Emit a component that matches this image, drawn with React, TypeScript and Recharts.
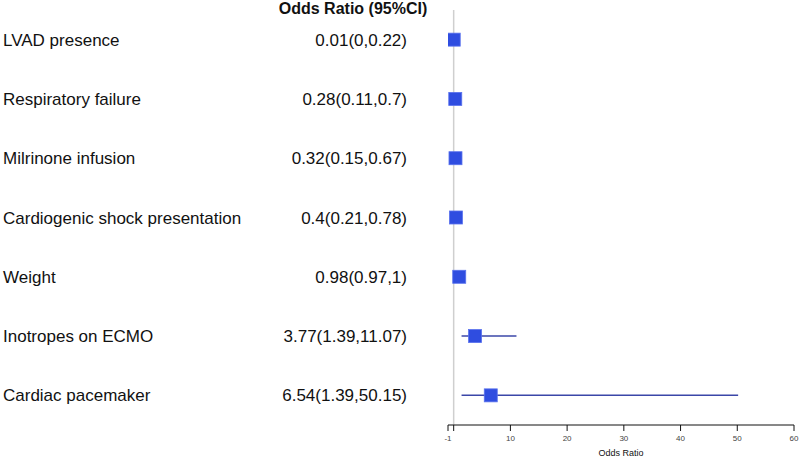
import { ScatterChart, Scatter, XAxis, YAxis, ErrorBar, ReferenceLine } from "recharts"

const variables = [
    "LVAD presence",
    "Respiratory failure",
    "Milrinone infusion",
    "Cardiogenic shock presentation",
    "Weight",
    "Inotropes on ECMO",
    "Cardiac pacemaker",
]
const oddsRatio = [0.01, 0.28, 0.32, 0.4, 0.98, 3.77, 6.54]
const ciLow = [0, 0.11, 0.15, 0.21, 0.97, 1.39, 1.39]
const ciHigh = [0.22, 0.7, 0.67, 0.78, 1, 11.07, 50.15]
const xTicks = [-1, 0, 10, 20, 30, 40, 50, 60]

const data = variables.map((name, i) => ({
    row: i,
    name,
    or: oddsRatio[i],
    err: [oddsRatio[i] - ciLow[i], ciHigh[i] - oddsRatio[i]],
    text: `${oddsRatio[i]}(${ciLow[i]},${ciHigh[i]})`,
}))

const font = "'Liberation Sans', Arial, sans-serif"

const RowTick = ({ y, payload }: any) => {
    const d = data[payload.value]
    if (!d) return null
    return (
        <g>
            <text x={3} y={y} dy={6} fontSize={17} fill="#111" fontFamily={font}>
                {d.name}
            </text>
            <text x={407} y={y} dy={6} fontSize={17} fill="#111" textAnchor="end" fontFamily={font}>
                {d.text}
            </text>
        </g>
    )
}

const Square = ({ cx, cy }: any) => (
    <rect x={cx - 6.5} y={cy - 6.5} width={13} height={13} fill="#2f4de0" stroke="#5a72ee" strokeWidth={0.8} />
)

export default function App() {
    return (
        <div style={{ position: "absolute", left: 0, top: 0, width: 800, height: 458, background: "#fff" }}>
            <div
                style={{
                    position: "absolute",
                    left: 253,
                    width: 200,
                    top: 0,
                    textAlign: "center",
                    fontFamily: font,
                    fontWeight: "bold",
                    fontSize: 16,
                    lineHeight: "18px",
                    color: "#111",
                }}
            >
                Odds Ratio (95%CI)
            </div>
            <ScatterChart width={800} height={458} margin={{ top: 10, right: 6, bottom: 0, left: 0 }}>
                <XAxis
                    type="number"
                    dataKey="or"
                    domain={[-1, 60]}
                    ticks={xTicks}
                    interval={0}
                    tickFormatter={(v: number) => (v === 0 ? "" : String(v))}
                    stroke="#111"
                    tickSize={6}
                    tickMargin={4}
                    tick={{ fontSize: 8, fill: "#444", fontFamily: font }}
                    height={33}
                    label={{ value: "Odds Ratio", position: "insideBottom", offset: 2, fontSize: 9, fill: "#111", fontFamily: font }}
                    allowDataOverflow
                />
                <YAxis
                    type="number"
                    dataKey="row"
                    domain={[-0.5, 6.5]}
                    ticks={[0, 1, 2, 3, 4, 5, 6]}
                    reversed
                    width={448}
                    axisLine={false}
                    tickLine={false}
                    tick={<RowTick />}
                />
                <ReferenceLine x={0} stroke="#cfcfcf" strokeWidth={1.5} />
                <Scatter data={data} shape={<Square />} isAnimationActive={false}>
                    <ErrorBar dataKey="err" direction="x" width={0} stroke="#3b47a8" strokeWidth={1.5} isAnimationActive={false} />
                </Scatter>
            </ScatterChart>
        </div>
    )
}
